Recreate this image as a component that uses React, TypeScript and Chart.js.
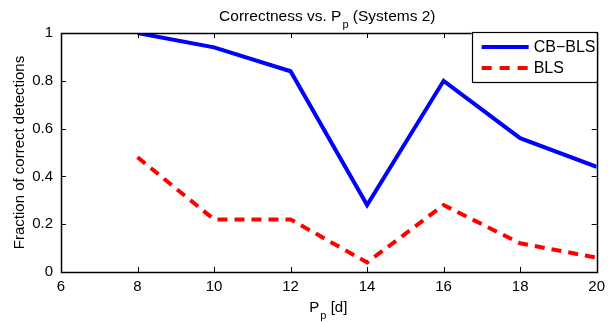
import React, { useEffect, useRef } from "react";
import { Chart, registerables } from "chart.js";

Chart.register(...registerables);

const periods = [8, 10, 12, 14, 16, 18, 20];
const cbBls = [1.0, 0.94, 0.84, 0.28, 0.8, 0.56, 0.44];
const bls = [0.48, 0.22, 0.22, 0.04, 0.28, 0.12, 0.06];
const xTicks = [6, 8, 10, 12, 14, 16, 18, 20];
const yTicks = [0, 0.2, 0.4, 0.6, 0.8, 1];
const seriesNames = ["CB\u2212BLS", "BLS"];

const FONT = "'Liberation Sans', Arial, Helvetica, sans-serif";

const frame = {
  id: "matlabFrame",
  afterDatasetsDraw(chart: any) {
    const { ctx, chartArea: a, scales } = chart;
    const xs = scales.x;
    const ys = scales.y;
    ctx.save();
    ctx.strokeStyle = "#000";
    ctx.lineWidth = 1;
    const tl = 5;
    ctx.beginPath();
    for (const v of xTicks) {
      const px = Math.round(xs.getPixelForValue(v)) + 0.5;
      ctx.moveTo(px, a.bottom);
      ctx.lineTo(px, a.bottom - tl);
      ctx.moveTo(px, a.top);
      ctx.lineTo(px, a.top + tl);
    }
    for (const v of yTicks) {
      const py = Math.round(ys.getPixelForValue(v)) + 0.5;
      ctx.moveTo(a.left, py);
      ctx.lineTo(a.left + tl, py);
      ctx.moveTo(a.right, py);
      ctx.lineTo(a.right - tl, py);
    }
    ctx.stroke();
    ctx.lineWidth = 1.5;
    ctx.strokeRect(Math.round(a.left) + 0.5, Math.round(a.top) + 0.5, Math.round(a.right - a.left), Math.round(a.bottom - a.top));

    // legend
    const lw = 125;
    const lh = 50;
    const lx = a.right - lw;
    const ly = a.top - 1;
    ctx.fillStyle = "#fff";
    ctx.fillRect(lx, ly, lw, lh);
    ctx.lineWidth = 1.2;
    ctx.strokeRect(Math.round(lx) + 0.5, Math.round(ly) + 0.5, lw, lh);
    const items = [
      { name: seriesNames[0], color: "#0000ff", dash: [] as number[], y: ly + 15 },
      { name: seriesNames[1], color: "#ff0000", dash: [10, 8], y: ly + 36 },
    ];
    for (const it of items) {
      ctx.beginPath();
      ctx.strokeStyle = it.color;
      ctx.lineWidth = 4;
      ctx.setLineDash(it.dash);
      ctx.moveTo(lx + 10, it.y);
      ctx.lineTo(lx + 57, it.y);
      ctx.stroke();
      ctx.setLineDash([]);
      ctx.fillStyle = "#000";
      ctx.font = `16px ${FONT}`;
      ctx.textAlign = "left";
      ctx.textBaseline = "middle";
      ctx.fillText(it.name, lx + 62, it.y + 1);
    }

    // titles with subscript
    const drawSub = (parts: { t: string; sub?: boolean }[], cx: number, baseY: number, size: number) => {
      const subSize = Math.round(size * 0.72);
      let total = 0;
      for (const p of parts) {
        ctx.font = `${p.sub ? subSize : size}px ${FONT}`;
        total += ctx.measureText(p.t).width;
      }
      let x = cx - total / 2;
      ctx.textAlign = "left";
      ctx.textBaseline = "alphabetic";
      ctx.fillStyle = "#000";
      for (const p of parts) {
        ctx.font = `${p.sub ? subSize : size}px ${FONT}`;
        ctx.fillText(p.t, x + (p.sub ? 1 : 0), p.sub ? baseY + size * 0.45 : baseY);
        x += ctx.measureText(p.t).width + (p.sub ? 1 : 0);
      }
    };
    const mid = (a.left + a.right) / 2 - 2;
    drawSub([{ t: "Correctness vs. P" }, { t: "p", sub: true }, { t: " (Systems 2)" }], mid, 21, 15.5);
    drawSub([{ t: "P" }, { t: "p", sub: true }, { t: " [d]" }], mid + 1, 312, 15);

    ctx.save();
    ctx.translate(20, (a.top + a.bottom) / 2);
    ctx.rotate(-Math.PI / 2);
    ctx.font = `15px ${FONT}`;
    ctx.textAlign = "center";
    ctx.textBaseline = "middle";
    ctx.fillText("Fraction of correct detections", 0, 0);
    ctx.restore();

    ctx.restore();
  },
};

export default function App() {
  const ref = useRef<HTMLCanvasElement | null>(null);
  useEffect(() => {
    if (!ref.current) return;
    const chart = new Chart(ref.current, {
      type: "line",
      data: {
        datasets: [
          {
            label: seriesNames[0],
            data: periods.map((p, i) => ({ x: p, y: cbBls[i] })),
            borderColor: "#0000ff",
            borderWidth: 4,
            pointRadius: 0,
            tension: 0,
            fill: false,
          },
          {
            label: seriesNames[1],
            data: periods.map((p, i) => ({ x: p, y: bls[i] })),
            borderColor: "#ff0000",
            borderWidth: 4,
            borderDash: [10, 7],
            pointRadius: 0,
            tension: 0,
            fill: false,
          },
        ],
      },
      options: {
        animation: false,
        responsive: false,
        maintainAspectRatio: false,
        layout: { padding: { top: 33, right: 14, left: 0, bottom: 0 } },
        plugins: {
          legend: { display: false },
          title: { display: false },
          tooltip: { enabled: false },
        },
        scales: {
          x: {
            type: "linear",
            min: 6,
            max: 20,
            afterBuildTicks: (s: any) => {
              s.ticks = xTicks.map((v) => ({ value: v }));
            },
            afterFit: (s: any) => {
              s.height = 51;
            },
            grid: { display: false, drawTicks: false },
            border: { display: false },
            ticks: {
              color: "#000",
              font: { family: FONT, size: 15 },
              padding: 6,
              maxRotation: 0,
              autoSkip: false,
              callback: (v: any) => String(v),
            },
          },
          y: {
            type: "linear",
            min: 0,
            max: 1,
            afterBuildTicks: (s: any) => {
              s.ticks = yTicks.map((v) => ({ value: v }));
            },
            afterFit: (s: any) => {
              s.width = 61;
            },
            grid: { display: false, drawTicks: false },
            border: { display: false },
            ticks: {
              color: "#000",
              font: { family: FONT, size: 15 },
              padding: 8,
              autoSkip: false,
              callback: (v: any) => String(Math.round(Number(v) * 10) / 10),
            },
          },
        },
      },
      plugins: [frame],
    });
    return () => chart.destroy();
  }, []);
  return (
    <div style={{ position: "fixed", left: 0, top: 0, width: 611, height: 323, background: "#fff" }}>
      <canvas ref={ref} width={611} height={323} style={{ width: 611, height: 323 }} />
    </div>
  );
}
